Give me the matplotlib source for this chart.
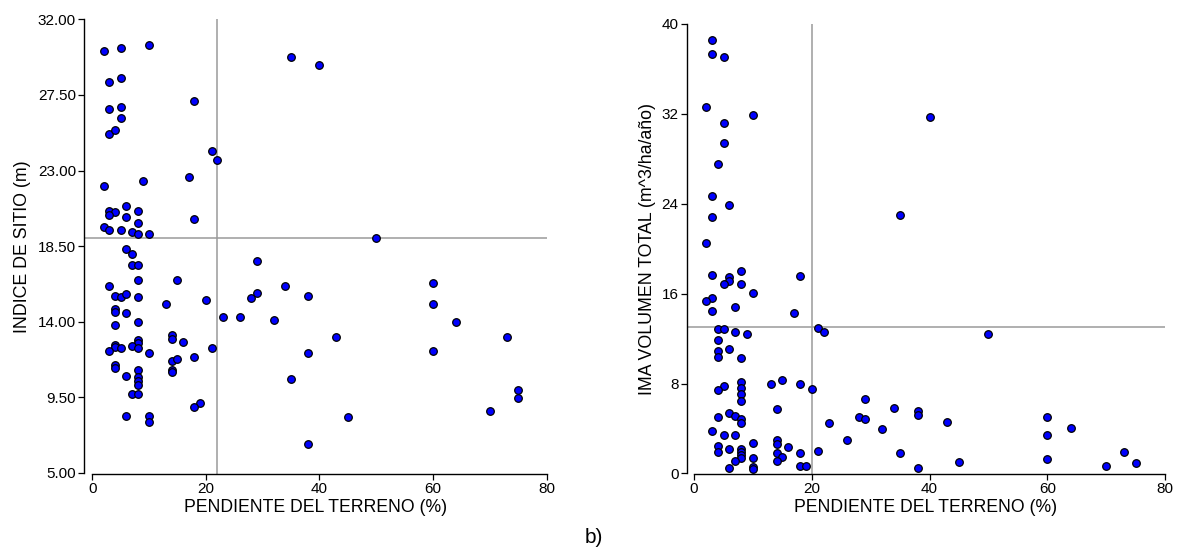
import numpy as np
import matplotlib
matplotlib.use("Agg")
import matplotlib.pyplot as plt

plt.rcParams['font.family'] = ['Liberation Sans', 'DejaVu Sans']

# a) indice de sitio vs pendiente
pend_is = [2, 5, 10, 35, 40, 3, 5, 18, 3, 5, 5, 3, 4, 21, 22, 17, 9, 2, 6, 3, 4, 3, 8, 6, 18, 8,
           2, 3, 5, 7, 8, 10, 50,
           6, 7, 7, 8, 29, 8, 15, 3, 34, 60, 4, 5, 6, 8, 13, 20, 28, 29, 38, 60, 4, 4, 6, 23, 26,
           32, 8, 64, 4, 14, 14, 16, 8, 8, 43, 73, 4, 4, 5, 7, 8, 21, 3, 10, 38, 60, 18, 14, 15,
           4, 4, 14, 14, 8, 6, 8, 8, 8, 35, 75, 75, 7, 8, 19, 18, 70, 6, 10, 45, 10, 38]
indice_sitio = [30.1, 30.3, 30.5, 29.75, 29.3, 28.3, 28.5, 27.15, 26.65, 26.8, 26.1, 25.2, 25.4,
                24.15, 23.6, 22.6, 22.4, 22.05, 20.9, 20.6, 20.5, 20.35, 20.6, 20.25, 20.1, 19.85,
                19.65, 19.45, 19.45, 19.35, 19.2, 19.2, 19.0,
                18.3, 18.0, 17.4, 17.35, 17.6, 16.45, 16.5, 16.1, 16.1, 16.3, 15.55, 15.45, 15.65,
                15.45, 15.05, 15.3, 15.4, 15.7, 15.5, 15.05, 14.75, 14.55, 14.5, 14.25, 14.25,
                14.1, 13.95, 13.95, 13.8, 13.2, 12.95, 12.8, 12.9, 12.7, 13.1, 13.1, 12.6, 12.5,
                12.45, 12.55, 12.4, 12.4, 12.25, 12.1, 12.15, 12.25, 11.9, 11.65, 11.75, 11.4,
                11.25, 11.1, 11.0, 11.1, 10.75, 10.7, 10.45, 10.2, 10.6, 9.95, 9.45, 9.7, 9.7,
                9.15, 8.9, 8.65, 8.35, 8.4, 8.3, 8.0, 6.7]

# b) IMA volumen total vs pendiente
pend_ima = [3, 3, 5, 2, 10, 40, 5, 5, 4, 3, 6, 35, 3, 2, 8, 3, 6, 18, 6, 5, 8, 10, 3, 2, 7, 3,
            17, 4, 5, 21, 7, 22, 9, 50, 4, 6, 4, 4, 8, 15, 8, 13, 18, 5, 8, 20, 4, 8, 29, 8, 34,
            14, 38, 6, 38, 7, 4, 28, 60, 29, 8, 43, 23, 8, 64, 32, 3, 5, 7, 60, 14, 26, 10, 14,
            4, 16, 6, 8, 21, 4, 8, 73, 14, 18, 35, 8, 15, 10, 8, 60, 7, 14, 45, 75, 18, 19, 70,
            10, 6, 10, 38]
ima_vol = [38.6, 37.3, 37.1, 32.65, 31.9, 31.7, 31.2, 29.4, 27.5, 24.7, 23.9, 23.0, 22.8, 20.5,
           18.0, 17.7, 17.5, 17.6, 17.15, 16.9, 16.9, 16.05, 15.6, 15.35, 14.85, 14.5, 14.25,
           12.85, 12.85, 12.9, 12.6, 12.6, 12.45, 12.4, 11.9, 11.1, 10.9, 10.4, 10.3, 8.35, 8.1,
           8.0, 8.0, 7.75, 7.6, 7.5, 7.4, 7.05, 6.65, 6.45, 5.85, 5.7, 5.6, 5.4, 5.2, 5.15, 5.0,
           5.0, 5.0, 4.85, 4.8, 4.6, 4.5, 4.5, 4.0, 3.95, 3.8, 3.45, 3.45, 3.45, 2.95, 2.95,
           2.75, 2.6, 2.45, 2.35, 2.2, 2.2, 2.0, 1.9, 1.9, 1.9, 1.8, 1.8, 1.8, 1.6, 1.5, 1.4,
           1.35, 1.25, 1.15, 1.15, 1.05, 0.9, 0.65, 0.65, 0.65, 0.55, 0.45, 0.4, 0.45]

yticks_is = [5.0, 9.5, 14.0, 18.5, 23.0, 27.5, 32.0]
yticks_ima = [0, 8, 16, 24, 32, 40]
xticks = [0, 20, 40, 60, 80]

fig = plt.figure(figsize=(11.83, 5.5), dpi=100)
ax1 = fig.add_axes([0.0710, 0.1382, 0.3911, 0.8264])
ax2 = fig.add_axes([0.5805, 0.1382, 0.4043, 0.8182])


def style(ax, ylo, yhi):
    for s in ['top', 'right']:
        ax.spines[s].set_visible(False)
    ax.spines['left'].set_bounds(ylo, yhi)
    ax.spines['bottom'].set_bounds(0, 80)
    for s in ['left', 'bottom']:
        ax.spines[s].set_linewidth(1.0)
    ax.tick_params(direction='out', length=4.3, width=0.9, labelsize=11, pad=1.5)
    ax.set_xticks(xticks)
    ax.set_xlabel("PENDIENTE DEL TERRENO (%)", fontsize=12.7, labelpad=2)


ax1.axvline(22, color='#9a9a9a', lw=1.1, zorder=1)
ax1.axhline(19, color='#9a9a9a', lw=1.1, zorder=1)
ax1.scatter(pend_is, indice_sitio, s=30, c='#0000ff', edgecolors='black', linewidths=0.9, zorder=3)
ax1.set_xlim(-1.45, 80)
ax1.set_ylim(4.92, 32)
ax1.set_yticks(yticks_is)
ax1.set_yticklabels(["%.2f" % v for v in yticks_is])
style(ax1, 5, 32)
ax1.set_ylabel("INDICE DE SITIO (m)", fontsize=12.8, labelpad=5)

ax2.axvline(20, color='#9a9a9a', lw=1.1, zorder=1)
ax2.axhline(13, color='#9a9a9a', lw=1.1, zorder=1)
ax2.scatter(pend_ima, ima_vol, s=30, c='#0000ff', edgecolors='black', linewidths=0.9, zorder=3)
ax2.set_xlim(-1.25, 80)
ax2.set_ylim(-0.05, 40)
ax2.set_yticks(yticks_ima)
style(ax2, 0, 40)
ax2.set_ylabel("IMA VOLUMEN TOTAL (m^3/ha/año)", fontsize=12.8, labelpad=4)

fig.text(0.502, 0.0236, "b)", fontsize=15, ha='center', va='center')

fig.savefig("out.png", dpi=100)
